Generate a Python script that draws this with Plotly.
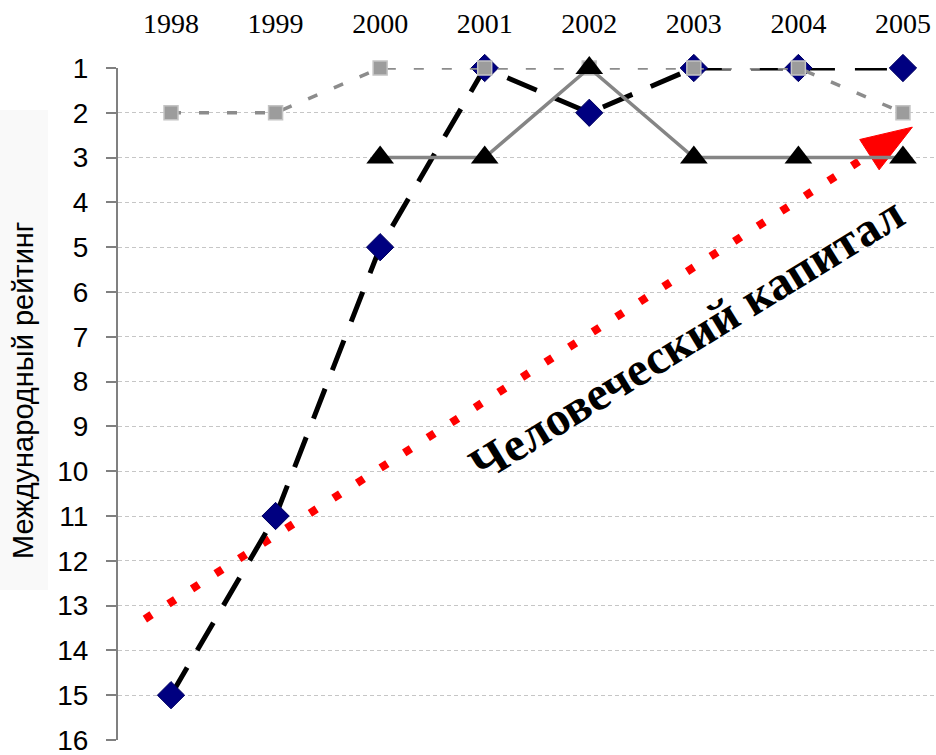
import math
import plotly.graph_objects as go

# ---- data ----
years = [1998, 1999, 2000, 2001, 2002, 2003, 2004, 2005]
series_squares = [2, 2, 1, 1, 1, 1, 1, 2]
series_diamonds = [15, 11, 5, 1, 2, 1, 1, 1]
series_triangles = [None, None, 3, 3, 1, 3, 3, 3]
y_ticks = list(range(1, 17))
y_title = "Международный рейтинг"
arrow_label = "Человеческий капитал"
arrow_start = [1997.75, 13.3]
arrow_tip = [2005.09, 2.32]
label_pos = [2002.93, 7.03]

# ---- layout geometry ----
W, H = 936, 755
ML, MR, MT, MB = 118, 0, 68, 15
XR = [1997.493, 2005.316]
YR = [16, 1]
pw, ph = W - ML - MR, H - MT - MB
px_x = pw / (XR[1] - XR[0])
px_y = ph / (YR[0] - YR[1])

fig = go.Figure()

# red arrow (dotted shaft + filled head)
dxp = (arrow_tip[0] - arrow_start[0]) * px_x
dyp = -(arrow_tip[1] - arrow_start[1]) * px_y
L = math.hypot(dxp, dyp)
ux, uy = dxp / L, dyp / L
head_len, head_half = 51, 18
bx, by = -ux * head_len, -uy * head_len
base_mid = [arrow_tip[0] + bx / px_x, arrow_tip[1] - by / px_y]
c1 = [base_mid[0] + (-uy * head_half) / px_x, base_mid[1] - (ux * head_half) / px_y]
c2 = [base_mid[0] + (uy * head_half) / px_x, base_mid[1] - (-ux * head_half) / px_y]

fig.add_trace(go.Scatter(
    x=[arrow_start[0], base_mid[0]], y=[arrow_start[1], base_mid[1]],
    mode="lines", line=dict(color="#ff0000", width=8, dash="8px,20px"),
    hoverinfo="skip", showlegend=False, cliponaxis=False))
fig.add_trace(go.Scatter(
    x=[arrow_tip[0], c1[0], c2[0], arrow_tip[0]],
    y=[arrow_tip[1], c1[1], c2[1], arrow_tip[1]],
    mode="lines", fill="toself", fillcolor="#ff0000",
    line=dict(color="#ff0000", width=1), hoverinfo="skip", showlegend=False))

fig.add_trace(go.Scatter(
    x=years, y=series_diamonds, mode="lines+markers",
    line=dict(color="#000000", width=5, dash="32px,20px"),
    marker=dict(symbol="diamond", size=21, color="#000080",
                line=dict(color="#000060", width=1)),
    cliponaxis=False, showlegend=False))
fig.add_trace(go.Scatter(
    x=years, y=series_squares, mode="lines+markers",
    line=dict(color="#8c8c8c", width=3.5, dash="10px,18px"),
    marker=dict(symbol="square", size=14, color="#9c9c9c",
                line=dict(color="#c4c4c4", width=1.5)),
    cliponaxis=False, showlegend=False))
fig.add_trace(go.Scatter(
    x=years, y=series_triangles, mode="lines+markers",
    line=dict(color="#858585", width=3.5),
    marker=dict(symbol="triangle-up", size=24, color="#000000"),
    cliponaxis=False, showlegend=False, connectgaps=False))

fig.update_layout(
    width=W, height=H,
    margin=dict(l=ML, r=MR, t=MT, b=MB, pad=0),
    plot_bgcolor="white", paper_bgcolor="white",
    xaxis=dict(range=XR, side="top", tickmode="array", tickvals=years,
               ticktext=[str(y) for y in years], showgrid=False,
               zeroline=False, showline=False, ticks="",
               ticklabelstandoff=28, ticklabeloverflow="allow",
               tickfont=dict(family="Liberation Serif", size=28, color="#000")),
    yaxis=dict(range=YR, tickmode="array", tickvals=y_ticks,
               ticktext=[str(v) for v in y_ticks],
               showgrid=True, gridcolor="#c6c6c6", griddash="4px,3px", gridwidth=1,
               zeroline=False, showline=True, linecolor="#808080", linewidth=2,
               ticks="outside", ticklen=10, tickwidth=2, tickcolor="#808080",
               ticklabelstandoff=12, ticklabeloverflow="allow",
               tickfont=dict(family="Liberation Sans", size=28, color="#000")),
    shapes=[dict(type="rect", xref="paper", yref="paper",
                 x0=-ML / pw, x1=(48 - ML) / pw,
                 y0=(H - MB - 590) / ph, y1=(H - MB - 110) / ph,
                 fillcolor="#f9f9f9", line=dict(width=0), layer="below")],
    annotations=[
        dict(text=y_title, xref="paper", yref="paper",
             x=(23 - ML) / pw, y=(H - MB - 391) / ph, showarrow=False,
             textangle=-90, xanchor="center", yanchor="middle",
             font=dict(family="Liberation Sans", size=29, color="#000")),
        dict(text="<b>" + arrow_label + "</b>", x=label_pos[0], y=label_pos[1],
             xref="x", yref="y", showarrow=False, textangle=-31.5,
             font=dict(family="Liberation Serif", size=48, color="#000")),
    ],
)

fig.write_html("out.html",
               config={"displayModeBar": False},
               post_script="document.body.style.margin='0';document.body.style.overflow='hidden';")
